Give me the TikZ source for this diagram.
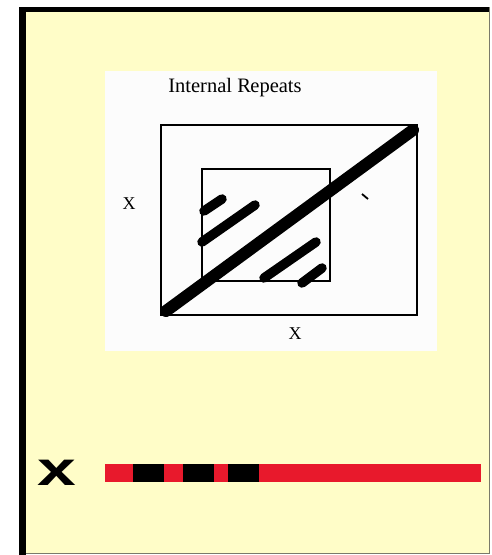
\documentclass[tikz,border=0pt]{standalone}
\usepackage{fontspec}
\setmainfont{Liberation Serif}
\newfontfamily\boldsans{Liberation Sans}
\definecolor{panelyellow}{HTML}{FFFDC8}
\definecolor{plotwhite}{HTML}{FCFCFC}
\definecolor{barred}{HTML}{E8192C}
\definecolor{edgegray}{HTML}{7A7A6A}
\begin{document}
\begin{tikzpicture}[x=1pt,y=-1pt,
  frameline/.style={draw=black,line width=1.2pt},
  repeatline/.style={line width=9.5pt,line cap=round},
  axislabel/.style={font=\fontsize{18}{18}\selectfont,inner sep=0pt}]
\useasboundingbox (0,0) rectangle (491,555);
% panel
\fill[white] (0,0) rectangle (491,555);
\fill[panelyellow] (26,12) rectangle (489,553);
\fill[black] (19,7) rectangle (489,12);
\fill[black] (19,7) rectangle (26,555);
\draw[edgegray,line width=1pt] (489,7) -- (489,553) -- (26,553);
% white plot area
\fill[plotwhite] (105,71) rectangle (437,351);
\node[font=\fontsize{20.5}{20.5}\selectfont,inner sep=0pt] (title) at (235,88) {Internal R\kern-0.5pt epeats};
% squares
\draw[frameline] (161,125) rectangle (417,315);
\draw[frameline] (202,169) rectangle (330,281);
% main diagonal
\draw[line width=12pt,line cap=round] (166,311) -- (413,130);
% internal repeats
\draw[repeatline] (204,211) -- (222,199);
\draw[repeatline] (202,242) -- (255,205);
\draw[repeatline] (264,278) -- (316,242);
\draw[repeatline] (302,283) -- (322,268);
% small tick
\draw[line width=1.8pt] (362,194) -- (368,199);
% labels
\node[axislabel] (xleft) at (129,204) {X};
\node[axislabel] (xbottom) at (295,334) {X};
% bottom bar
\fill[barred] (105,464) rectangle (481,482);
\fill[black] (133,464) rectangle (164,482);
\fill[black] (183,464) rectangle (214,482);
\fill[black] (228,464) rectangle (259,482);
\node[inner sep=0pt] (xbig) at (57,473) {\scalebox{1.45}[1]{\boldsans\bfseries\fontsize{48}{48}\selectfont x}};
\end{tikzpicture}
\end{document}
